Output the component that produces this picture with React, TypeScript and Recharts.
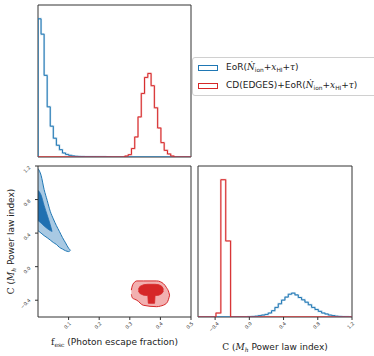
import React from "react";
import {
  ComposedChart,
  Line,
  Area,
  XAxis,
  YAxis,
  ReferenceArea,
  Legend,
} from "recharts";

const BLUE = "#1f77b4";
const RED = "#d62728";
const INK = "#333333";

// f_esc marginal (top left), heights relative to the EoR peak
const FESC_EOR_START = 0;
const FESC_EOR_BIN = 0.01;
const FESC_EOR = [
  1.0, 0.889, 0.591, 0.363, 0.223, 0.136, 0.085, 0.053, 0.029, 0.019, 0.012,
  0.008, 0.005, 0.004, 0.003, 0.002, 0.002, 0.002, 0.0015, 0.001, 0.001, 0.001,
  0.0008, 0.0005,
];
const FESC_CD_START = 0.284;
const FESC_CD_BIN = 0.0107;
const FESC_CD = [
  0.007, 0.017, 0.061, 0.145, 0.29, 0.46, 0.576, 0.605, 0.516, 0.356, 0.21,
  0.104, 0.048, 0.022, 0.007,
];

// C marginal (bottom right)
const C_EOR_START = -0.013;
const C_EOR_BIN = 0.039;
const C_EOR = [
  0.002, 0.004, 0.006, 0.01, 0.014, 0.019, 0.029, 0.046, 0.07, 0.096, 0.123,
  0.145, 0.166, 0.174, 0.161, 0.142, 0.125, 0.108, 0.089, 0.07, 0.055, 0.041,
  0.029, 0.022, 0.014, 0.01, 0.006, 0.004, 0.002, 0.001, 0.0005,
];
const C_CD_START = -0.39;
const C_CD_BIN = 0.057;
const C_CD = [0.029, 1.0, 0.554];

// 2d credible regions: f_esc, lower C, upper C
const EOR_OUTER_X = [0, 0.01, 0.02, 0.03, 0.04, 0.05, 0.06, 0.07, 0.08, 0.09, 0.1, 0.106];
const EOR_OUTER_LO = [0.43, 0.4, 0.37, 0.345, 0.317, 0.288, 0.265, 0.23, 0.21, 0.19, 0.18, 0.195];
const EOR_OUTER_HI = [1.17, 1.09, 0.92, 0.79, 0.66, 0.57, 0.49, 0.42, 0.347, 0.284, 0.22, 0.195];

const EOR_INNER_X = [0, 0.01, 0.02, 0.03, 0.04, 0.046];
const EOR_INNER_LO = [0.55, 0.52, 0.485, 0.455, 0.43, 0.42];
const EOR_INNER_HI = [0.91, 0.855, 0.73, 0.615, 0.5, 0.42];

const CD_OUTER_X = [0.305, 0.308, 0.317, 0.323, 0.344, 0.388, 0.4, 0.42, 0.428, 0.43];
const CD_OUTER_LO = [-0.33, -0.37, -0.39, -0.4, -0.46, -0.477, -0.47, -0.436, -0.37, -0.34];
const CD_OUTER_HI = [-0.28, -0.23, -0.18, -0.17, -0.17, -0.17, -0.18, -0.25, -0.31, -0.34];

const CD_INNER_X = [0.328, 0.333, 0.345, 0.359, 0.3605, 0.381, 0.3825, 0.395, 0.405, 0.41];
const CD_INNER_LO = [-0.29, -0.32, -0.34, -0.345, -0.437, -0.437, -0.345, -0.34, -0.32, -0.29];
const CD_INNER_HI = [-0.27, -0.235, -0.215, -0.21, -0.21, -0.21, -0.21, -0.215, -0.235, -0.27];

const FESC_TICKS = [0.1, 0.2, 0.3, 0.4, 0.5];
const C_TICKS = [-0.4, 0, 0.4, 0.8, 1.2];
const SERIES_NAMES = ["EoR", "CD(EDGES)+EoR"];

function hist(start: number, bin: number, heights: number[], lo: number, hi: number) {
  const pts = [
    { x: lo, y: 0 },
    { x: start, y: 0 },
  ];
  heights.forEach((h, i) => pts.push({ x: start + i * bin, y: h }));
  pts.push({ x: start + heights.length * bin, y: 0 });
  pts.push({ x: hi, y: 0 });
  return pts;
}

function band(xs: number[], lo: number[], hi: number[]) {
  return xs.map((x, i) => ({ x, r: [lo[i], hi[i]] }));
}

const TICK_FS = 4.8;
const LABEL_FS = 9;
const fmt = (v: number) => (v < -1e-9 ? "\u2212" : "") + Math.abs(v).toFixed(1);
function rotBox(s: string) {
  let w = 0;
  for (const ch of s) w += ch === "." ? 0.318 : ch === "\u2212" ? 0.838 : 0.636;
  return (w * TICK_FS + 0.73 * TICK_FS) / Math.SQRT2;
}

function BottomTick(props: any) {
  const { x, y, payload } = props;
  const s = fmt(payload.value);
  const cx = x - 1;
  const cy = y + 1.5 + rotBox(s) / 2;
  return (
    <text
      x={cx}
      y={cy}
      textAnchor="middle"
      dominantBaseline="central"
      transform={`rotate(-45 ${cx} ${cy})`}
      fontSize={TICK_FS}
      fontFamily="DejaVu Sans"
      fill={INK}
    >
      {s}
    </text>
  );
}

function LeftTick(props: any) {
  const { x, y, payload } = props;
  const s = fmt(payload.value);
  const cx = x - 4 - rotBox(s) / 2;
  const cy = y + 3.5;
  return (
    <text
      x={cx}
      y={cy}
      textAnchor="middle"
      dominantBaseline="central"
      transform={`rotate(-45 ${cx} ${cy})`}
      fontSize={TICK_FS}
      fontFamily="DejaVu Sans"
      fill={INK}
    >
      {s}
    </text>
  );
}

const MATH = { fontFamily: "DejaVu Serif" };

function FescLabel() {
  return (
    <text x={114.5} y={189.5} textAnchor="middle" fontSize={LABEL_FS} fontFamily="DejaVu Sans" fill="#222">
      <tspan {...MATH}>f</tspan>
      <tspan {...MATH} fontSize={6} dy={2}>esc</tspan>
      <tspan dy={-2}> (Photon escape fraction)</tspan>
    </text>
  );
}

function CLabel({ x, y, rotate }: { x: number; y: number; rotate?: boolean }) {
  return (
    <text
      x={x}
      y={y}
      textAnchor="middle"
      fontSize={LABEL_FS}
      fontFamily="DejaVu Sans"
      fill="#222"
      transform={rotate ? `rotate(-90 ${x} ${y})` : undefined}
    >
      <tspan {...MATH}>C (</tspan>
      <tspan {...MATH} fontStyle="italic">M</tspan>
      <tspan {...MATH} fontStyle="italic" fontSize={6} dy={2}>h</tspan>
      <tspan dy={-2}> Power law index)</tspan>
    </text>
  );
}

function MathSuffix() {
  const sub = { fontSize: "0.65em", position: "relative" as const, top: "0.3em" };
  return (
    <span>
      (<span style={{ ...MATH, fontStyle: "italic" }}>{"\u1E44"}</span>
      <span style={sub}>ion</span>+<span style={{ ...MATH, fontStyle: "italic" }}>x</span>
      <span style={sub}>HI</span>+<span style={{ ...MATH, fontStyle: "italic" }}>{"\u03C4"}</span>)
    </span>
  );
}

function LegendBox(props: any) {
  const items = (props.payload || [])
    .filter((p: any) => SERIES_NAMES.includes(p.value))
    .sort((a: any, b: any) => SERIES_NAMES.indexOf(a.value) - SERIES_NAMES.indexOf(b.value));
  return (
    <div
      style={{
        border: "1px solid #d0d0d0",
        borderRadius: 3,
        background: "#fff",
        padding: "1px 5px 0px",
        width: 200,
        fontFamily: "DejaVu Sans",
        fontSize: LABEL_FS,
        color: "#222",
        lineHeight: "17px",
      }}
    >
      {items.map((p: any) => (
        <div key={p.value} style={{ display: "flex", alignItems: "center", whiteSpace: "nowrap" }}>
          <span
            style={{
              display: "inline-block",
              width: 18,
              height: 4,
              border: `1px solid ${p.color}`,
              marginRight: 8,
            }}
          />
          <span>
            {p.value}
            <MathSuffix />
          </span>
        </div>
      ))}
    </div>
  );
}

export default function App() {
  const fescEor = hist(FESC_EOR_START, FESC_EOR_BIN, FESC_EOR, 0, 0.5);
  const fescCd = hist(FESC_CD_START, FESC_CD_BIN, FESC_CD, 0, 0.5);
  const cEor = hist(C_EOR_START, C_EOR_BIN, C_EOR, -0.6, 1.2);
  const cCd = hist(C_CD_START, C_CD_BIN, C_CD, -0.6, 1.2);

  const lineProps = {
    dataKey: "y",
    type: "stepAfter" as const,
    dot: false,
    activeDot: false,
    isAnimationActive: false,
    strokeWidth: 1,
  };
  const haloProps = {
    ...lineProps,
    strokeWidth: 2,
    strokeOpacity: 0.25,
    legendType: "none" as const,
  };

  return (
    <div
      style={{
        position: "absolute",
        left: 0,
        top: 0,
        width: 374,
        height: 356,
        overflow: "hidden",
        background: "#fff",
      }}
    >
      {/* f_esc marginal + legend */}
      <div style={{ position: "absolute", left: 0, top: 0 }}>
        <ComposedChart width={374} height={170} margin={{ top: 5, right: 183, bottom: 0, left: 38 }}>
          <XAxis
            dataKey="x"
            type="number"
            domain={[0, 0.5]}
            ticks={[0, ...FESC_TICKS]}
            interval={0}
            allowDataOverflow
            tick={false}
            tickSize={3}
            tickLine={{ stroke: INK }}
            axisLine={false}
            height={13}
          />
          <YAxis type="number" domain={[0, 1.1]} allowDataOverflow hide />
          <Line {...haloProps} data={fescEor} stroke={BLUE} />
          <Line {...haloProps} data={fescCd} stroke={RED} />
          <Line {...lineProps} data={fescEor} stroke={BLUE} name={SERIES_NAMES[0]} />
          <Line {...lineProps} data={fescCd} stroke={RED} name={SERIES_NAMES[1]} />
          <ReferenceArea x1={0} x2={0.5} y1={0} y2={1.1} fill="none" stroke={INK} strokeWidth={1} ifOverflow="visible" />
          <Legend
            layout="vertical"
            align="center"
            verticalAlign="middle"
            content={<LegendBox />}
            wrapperStyle={{ left: 192, top: 57, right: "auto", bottom: "auto", width: "auto" }}
          />
        </ComposedChart>
      </div>

      {/* joint posterior */}
      <div style={{ position: "absolute", left: 0, top: 155 }}>
        <ComposedChart width={195} height={201} margin={{ top: 11, right: 4, bottom: 0, left: 0 }}>
          <XAxis
            dataKey="x"
            type="number"
            domain={[0, 0.5]}
            ticks={FESC_TICKS}
            interval={0}
            allowDataOverflow
            tick={<BottomTick />}
            tickSize={3}
            tickMargin={0}
            tickLine={{ stroke: INK }}
            axisLine={false}
            height={39}
            label={() => <FescLabel />}
          />
          <YAxis
            type="number"
            domain={[-0.6, 1.2]}
            ticks={C_TICKS}
            interval={0}
            allowDataOverflow
            tick={<LeftTick />}
            tickSize={3}
            tickMargin={0}
            tickLine={{ stroke: INK }}
            axisLine={false}
            width={38}
            label={() => <CLabel x={14} y={86.5} rotate />}
          />
          <Area
            data={band(EOR_OUTER_X, EOR_OUTER_LO, EOR_OUTER_HI)}
            dataKey="r"
            type="monotone"
            fill="#a8c9e3"
            fillOpacity={1}
            stroke={BLUE}
            strokeWidth={1}
            dot={false}
            activeDot={false}
            legendType="none"
            isAnimationActive={false}
          />
          <Area
            data={band(EOR_INNER_X, EOR_INNER_LO, EOR_INNER_HI)}
            dataKey="r"
            type="monotone"
            fill="#2070b1"
            fillOpacity={1}
            stroke="#2070b1"
            strokeWidth={0.8}
            dot={false}
            activeDot={false}
            legendType="none"
            isAnimationActive={false}
          />
          <Area
            data={band(CD_OUTER_X, CD_OUTER_LO, CD_OUTER_HI)}
            dataKey="r"
            type="monotone"
            fill="#f2b0b0"
            fillOpacity={1}
            stroke={RED}
            strokeWidth={1}
            dot={false}
            activeDot={false}
            legendType="none"
            isAnimationActive={false}
          />
          <Area
            data={band(CD_INNER_X, CD_INNER_LO, CD_INNER_HI)}
            dataKey="r"
            type="linear"
            fill={RED}
            fillOpacity={1}
            stroke={RED}
            strokeWidth={0.8}
            dot={false}
            activeDot={false}
            legendType="none"
            isAnimationActive={false}
          />
          <ReferenceArea x1={0} x2={0.5} y1={-0.6} y2={1.2} fill="none" stroke={INK} strokeWidth={1} ifOverflow="visible" />
        </ComposedChart>
      </div>

      {/* C marginal */}
      <div style={{ position: "absolute", left: 190, top: 155 }}>
        <ComposedChart width={166} height={201} margin={{ top: 11, right: 4, bottom: 0, left: 8 }}>
          <XAxis
            dataKey="x"
            type="number"
            domain={[-0.6, 1.2]}
            ticks={C_TICKS}
            interval={0}
            allowDataOverflow
            tick={<BottomTick />}
            tickSize={3}
            tickMargin={0}
            tickLine={{ stroke: INK }}
            axisLine={false}
            height={39}
            label={() => <CLabel x={85} y={194.5} />}
          />
          <YAxis type="number" domain={[0, 1.1]} allowDataOverflow hide />
          <Line {...haloProps} data={cEor} stroke={BLUE} />
          <Line {...haloProps} data={cCd} stroke={RED} />
          <Line {...lineProps} data={cEor} stroke={BLUE} legendType="none" />
          <Line {...lineProps} data={cCd} stroke={RED} legendType="none" />
          <ReferenceArea x1={-0.6} x2={1.2} y1={0} y2={1.1} fill="none" stroke={INK} strokeWidth={1} ifOverflow="visible" />
        </ComposedChart>
      </div>
    </div>
  );
}
